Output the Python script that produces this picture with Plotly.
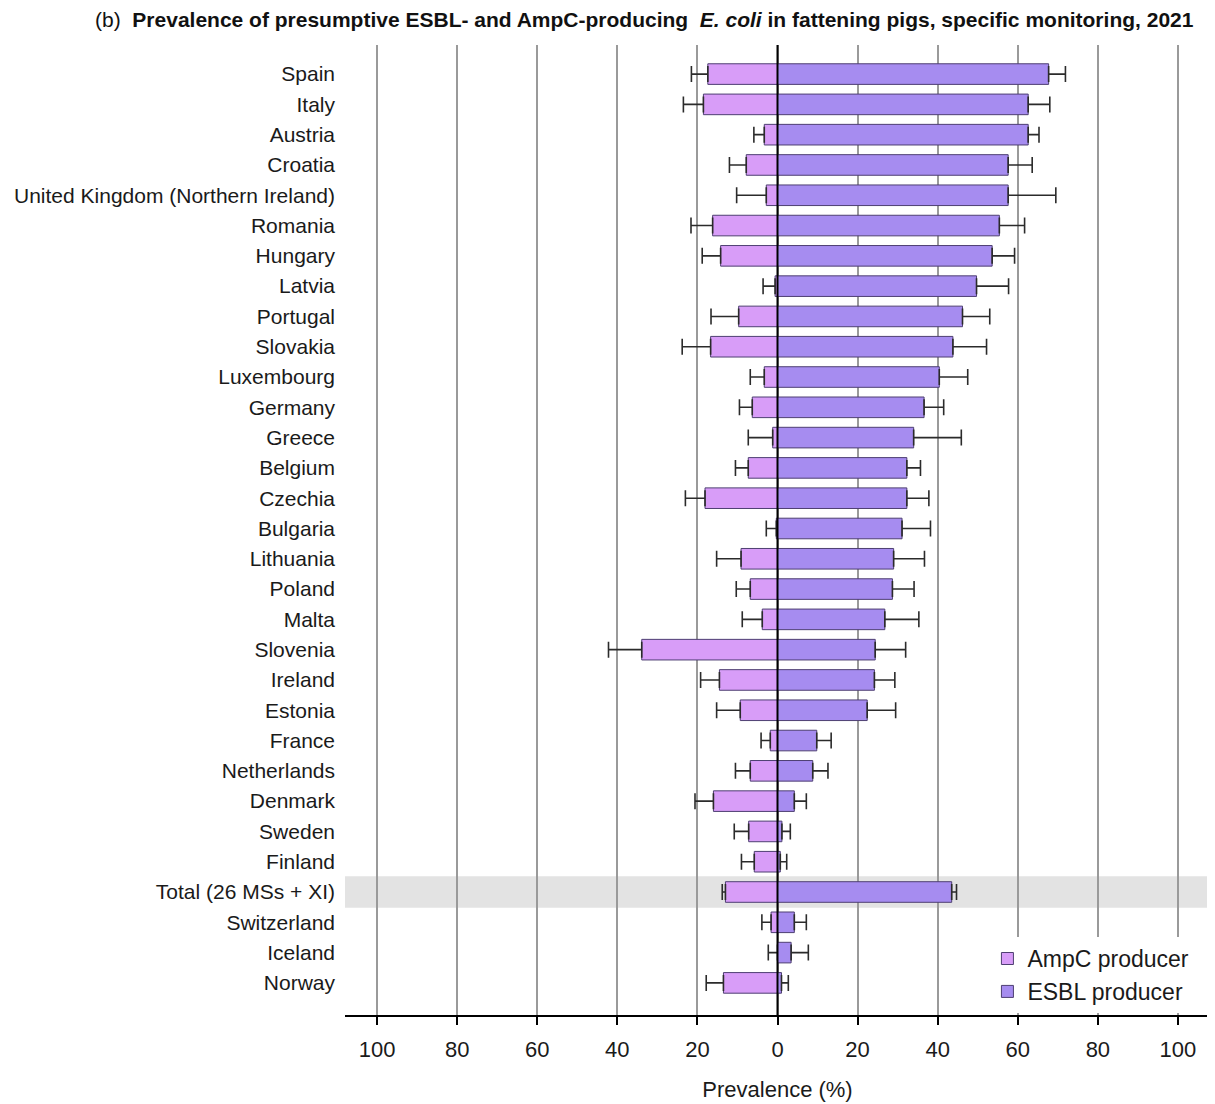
import plotly.graph_objects as go

countries = ["Spain", "Italy", "Austria", "Croatia", "United Kingdom (Northern Ireland)",
             "Romania", "Hungary", "Latvia", "Portugal", "Slovakia", "Luxembourg",
             "Germany", "Greece", "Belgium", "Czechia", "Bulgaria", "Lithuania",
             "Poland", "Malta", "Slovenia", "Ireland", "Estonia", "France",
             "Netherlands", "Denmark", "Sweden", "Finland", "Total (26 MSs + XI)",
             "Switzerland", "Iceland", "Norway"]

ampc = [17.4, 18.5, 3.3, 7.8, 2.8, 16.2, 14.2, 0.6, 9.7, 16.7, 3.3,
        6.3, 1.2, 7.3, 18.1, 0.3, 9.1, 6.8, 3.8, 33.9, 14.5, 9.3, 1.8,
        6.8, 16.0, 7.2, 5.8, 13.0, 1.6, 0.0, 13.5]
ampc_upper = [21.5, 23.5, 5.9, 12.0, 10.2, 21.6, 18.8, 3.6, 16.6, 23.8, 6.8,
              9.5, 7.3, 10.5, 23.0, 2.8, 15.2, 10.3, 8.8, 42.2, 19.2, 15.2, 4.1,
              10.5, 20.6, 10.8, 9.0, 13.8, 3.9, 2.3, 17.8]
esbl = [67.7, 62.6, 62.6, 57.6, 57.6, 55.4, 53.6, 49.7, 46.2, 43.8, 40.4,
        36.6, 34.0, 32.3, 32.3, 31.1, 29.0, 28.7, 26.8, 24.4, 24.2, 22.4, 9.8,
        8.8, 4.2, 1.1, 0.7, 43.5, 4.2, 3.4, 1.0]
esbl_upper = [71.9, 68.0, 65.3, 63.6, 69.5, 61.7, 59.2, 57.7, 53.0, 52.2, 47.5,
              41.5, 45.9, 35.7, 37.8, 38.2, 36.7, 34.1, 35.3, 32.0, 29.3, 29.5, 13.4,
              12.6, 7.2, 3.2, 2.3, 44.7, 7.2, 7.7, 2.7]

tick_vals = [-100, -80, -60, -40, -20, 0, 20, 40, 60, 80, 100]
tick_text = ["100", "80", "60", "40", "20", "0", "20", "40", "60", "80", "100"]

FONT = "Liberation Sans, Arial, sans-serif"
ERR_COLOR = "#2b2b2b"
OUTLINE = "#4e3f72"

fig = go.Figure()

fig.add_trace(go.Bar(
    y=countries, x=[-v for v in ampc], orientation="h", name="AmpC producer",
    marker=dict(color="#d89df8", line=dict(color=OUTLINE, width=1)),
    width=0.68,
    error_x=dict(type="data", symmetric=False,
                 array=[0] * len(ampc),
                 arrayminus=[u - v for u, v in zip(ampc_upper, ampc)],
                 color=ERR_COLOR, thickness=1.6, width=8),
))
fig.add_trace(go.Bar(
    y=countries, x=esbl, orientation="h", name="ESBL producer",
    marker=dict(color="#a68cf0", line=dict(color=OUTLINE, width=1)),
    width=0.68,
    error_x=dict(type="data", symmetric=False,
                 array=[u - v for u, v in zip(esbl_upper, esbl)],
                 arrayminus=[0] * len(esbl),
                 color=ERR_COLOR, thickness=1.6, width=8),
))

total_idx = countries.index("Total (26 MSs + XI)")
fig.add_shape(type="rect", xref="paper", x0=0, x1=1, yref="y",
              y0=total_idx - 0.52, y1=total_idx + 0.52,
              fillcolor="#e3e3e3", line=dict(width=0), layer="between")
fig.add_shape(type="line", xref="x", x0=0, x1=0, yref="paper", y0=0, y1=1,
              line=dict(color="black", width=2), layer="above")

n = len(countries)
fig.update_layout(
    width=1207, height=1096,
    margin=dict(l=337, r=5, t=37, b=89),
    paper_bgcolor="white", plot_bgcolor="white",
    barmode="overlay",
    font=dict(family=FONT, color="#1a1a1a"),
    title=dict(
        text="(b)  <b>Prevalence of presumptive ESBL- and AmpC-producing  <i>E. coli</i> in fattening pigs, specific monitoring, 2021</b>",
        font=dict(family=FONT, size=21, color="#111"),
        xref="container", x=87 / 1207, xanchor="left",
        yref="container", y=1 - 12 / 1096, yanchor="middle",
    ),
    xaxis=dict(
        range=[-108, 108], tickvals=tick_vals, ticktext=tick_text,
        showgrid=True, gridcolor="#9a9a9a", gridwidth=1.5, zeroline=False,
        showline=True, linecolor="black", linewidth=2,
        ticks="outside", ticklen=8, tickwidth=1.5, tickcolor="black",
        ticklabelstandoff=6,
        tickfont=dict(size=22, color="#1a1a1a"),
        title=dict(text="Prevalence (%)", font=dict(size=22, color="#1a1a1a"), standoff=20),
    ),
    yaxis=dict(
        type="category", categoryorder="array", categoryarray=countries,
        range=[n - 1 + 1.06, -0.96], showgrid=False, zeroline=False,
        showline=False, ticks="", ticklabelstandoff=9,
        tickfont=dict(size=21, color="#1a1a1a"),
    ),
    legend=dict(
        x=0.982, xanchor="right", y=0.002, yanchor="bottom",
        bgcolor="white", font=dict(size=23, color="#1a1a1a"),
        itemwidth=30, tracegroupgap=0,
    ),
    showlegend=True,
)

fig.write_html("out.html")
